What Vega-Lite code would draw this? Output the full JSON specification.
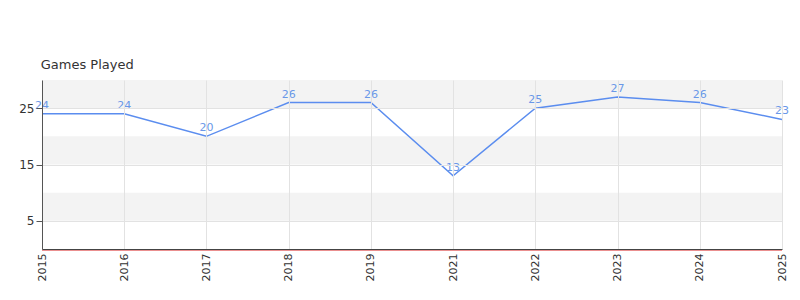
{
  "$schema": "https://vega.github.io/schema/vega-lite/v6.json",
  "width": 740,
  "height": 169,
  "padding": {"left": 18, "top": 59, "right": 20, "bottom": 0},
  "autosize": {"type": "pad"},
  "background": "white",
  "title": {
    "text": "Games Played",
    "anchor": "start",
    "dx": 22,
    "offset": 8,
    "fontSize": 13,
    "fontWeight": "normal",
    "color": "#333333",
    "font": "DejaVu Sans"
  },
  "config": {
    "view": {"stroke": null},
    "font": "DejaVu Sans",
    "axis": {"labelOverlap": false},
    "axisY": {"labelOverlap": false},
    "axisQuantitative": {"labelOverlap": false}
  },
  "datasets": {
    "games": [
      {"year": "2015", "games": 24},
      {"year": "2016", "games": 24},
      {"year": "2017", "games": 20},
      {"year": "2018", "games": 26},
      {"year": "2019", "games": 26},
      {"year": "2021", "games": 13},
      {"year": "2022", "games": 25},
      {"year": "2023", "games": 27},
      {"year": "2024", "games": 26},
      {"year": "2025", "games": 23}
    ],
    "bands": [
      {"lo": 5, "hi": 10},
      {"lo": 15, "hi": 20},
      {"lo": 25, "hi": 30}
    ]
  },
  "layer": [
    {
      "data": {"name": "bands"},
      "mark": {"type": "rect", "color": "#f3f3f3"},
      "encoding": {
        "y": {"field": "lo", "type": "quantitative"},
        "y2": {"field": "hi"}
      }
    },
    {
      "data": {"name": "games"},
      "mark": {"type": "line", "color": "#5b8def", "strokeWidth": 1.5},
      "encoding": {
        "x": {
          "field": "year",
          "type": "ordinal",
          "scale": {"type": "point", "padding": 0},
          "axis": {
            "title": null,
            "labelAngle": -90,
            "labelFontSize": 11,
            "labelColor": "#333333",
            "labelPadding": 4,
            "grid": true,
            "gridColor": "#e2e2e2",
            "domainColor": "#444444",
            "ticks": false,
            "zindex": 1,
            "minExtent": 51,
            "maxExtent": 51
          }
        },
        "y": {
          "field": "games",
          "type": "quantitative",
          "scale": {"domain": [0, 30], "nice": false},
          "axis": {
            "title": null,
            "values": [5, 10, 15, 20, 25, 30],
            "labelOverlap": false,
            "labelFontSize": 12,
            "labelColor": "#333333",
            "labelPadding": 2,
            "grid": true,
            "gridColor": "#e2e2e2",
            "tickColor": "#555555",
            "tickSize": 6,
            "domainColor": "#555555",
            "zindex": 1
          }
        }
      }
    },
    {
      "data": {"name": "games"},
      "mark": {"type": "text", "color": "#6a98e8", "fontSize": 11, "dy": -8},
      "encoding": {
        "x": {"field": "year", "type": "ordinal"},
        "y": {"field": "games", "type": "quantitative"},
        "text": {"field": "games", "type": "quantitative"}
      }
    },
    {
      "data": {"values": [{"v": 0}]},
      "mark": {"type": "rule", "color": "#d62020", "strokeWidth": 1, "yOffset": 1},
      "encoding": {
        "y": {"field": "v", "type": "quantitative"}
      }
    }
  ]
}
